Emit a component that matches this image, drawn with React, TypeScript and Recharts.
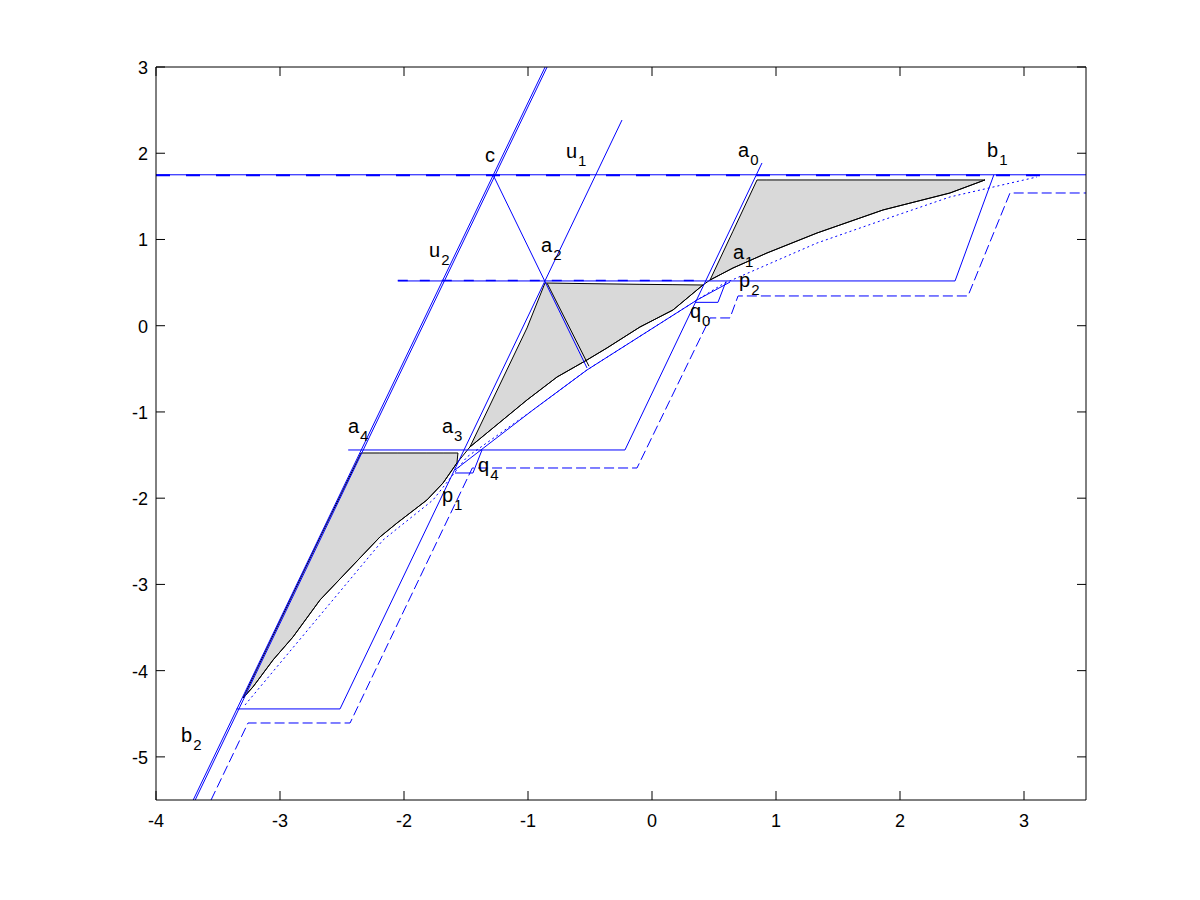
import React from 'react';
import { ComposedChart, XAxis, YAxis, Line, Area, Scatter } from 'recharts';

type P = { x: number; y: number };
type R = { x: number; lo: number; hi: number };

const xTicks = [-4, -3, -2, -1, 0, 1, 2, 3];
const yTicks = [-5, -4, -3, -2, -1, 0, 1, 2, 3];

// horizontal level line
const levelLine: P[] = [{ x: -4, y: 1.75 }, { x: 3.5, y: 1.75 }];
const levelDash: P[] = [{ x: -4, y: 1.745 }, { x: 3.2, y: 1.745 }];
// u2 (double line)
const u2LineA: P[] = [{ x: -3.7, y: -5.5 }, { x: -0.862, y: 3 }];
const u2LineB: P[] = [{ x: -3.684, y: -5.5 }, { x: -0.846, y: 3 }];
// solid staircases
const solidStepLow: P[] = [{ x: -3.35, y: -4.444 }, { x: -2.516, y: -4.444 }, { x: -0.242, y: 2.385 }];
const solidStepMid: P[] = [{ x: -2.45, y: -1.441 }, { x: -0.218, y: -1.441 }, { x: 0.887, y: 1.887 }];
const solidStepHigh: P[] = [{ x: -2.05, y: 0.519 }, { x: 2.444, y: 0.519 }, { x: 2.757, y: 1.75 }];
const highDash: P[] = [{ x: -2.05, y: 0.524 }, { x: 0.4, y: 0.524 }];
// dashed staircase
const dashedStep: P[] = [
  { x: -3.556, y: -5.5 }, { x: -3.258, y: -4.607 }, { x: -2.435, y: -4.607 }, { x: -1.449, y: -1.65 },
  { x: -0.121, y: -1.65 }, { x: 0.468, y: 0.09 }, { x: 0.629, y: 0.09 }, { x: 0.694, y: 0.345 },
  { x: 2.548, y: 0.345 }, { x: 2.887, y: 1.539 }, { x: 3.5, y: 1.539 },
];
// small loops
const smallQ0: P[] = [{ x: 0.347, y: 0.271 }, { x: 0.532, y: 0.271 }, { x: 0.597, y: 0.514 }];
const smallP1: P[] = [{ x: -1.589, y: -1.708 }, { x: -1.444, y: -1.708 }, { x: -1.371, y: -1.441 }];
// c -> a2 line
const cLine: P[] = [{ x: -1.282, y: 1.75 }, { x: -0.524, y: -0.49 }];
const cLineBlack: P[] = [{ x: -0.845, y: 0.49 }, { x: -0.508, y: -0.47 }];
// p1 -> p2
const pLine: P[] = [
  { x: -1.589, y: -1.673 }, { x: -0.96, y: -0.977 }, { x: -0.524, y: -0.513 },
  { x: 0.363, y: 0.298 }, { x: 0.629, y: 0.506 },
];
// dotted blue curve
const dottedCurve: P[] = [
  { x: -3.282, y: -4.398 }, { x: -2.621, y: -3.262 }, { x: -2.169, y: -2.485 }, { x: -1.766, y: -2.021 },
  { x: -1.492, y: -1.522 }, { x: -0.96, y: -0.977 }, { x: -0.524, y: -0.513 }, { x: 0.363, y: 0.298 },
  { x: 0.573, y: 0.485 }, { x: 1.331, y: 0.959 }, { x: 1.863, y: 1.226 }, { x: 2.403, y: 1.493 },
  { x: 3.105, y: 1.725 },
];
// black curve
const blackCurve: P[] = [
  { x: -3.298, y: -4.317 }, { x: -3.218, y: -4.189 }, { x: -3.056, y: -3.876 }, { x: -2.895, y: -3.609 },
  { x: -2.677, y: -3.18 }, { x: -2.194, y: -2.45 }, { x: -2.056, y: -2.288 }, { x: -1.815, y: -2.021 },
  { x: -1.685, y: -1.824 }, { x: -1.573, y: -1.592 }, { x: -1.468, y: -1.406 }, { x: -1.008, y: -0.861 },
  { x: -0.766, y: -0.595 }, { x: -0.524, y: -0.397 }, { x: -0.363, y: -0.258 }, { x: -0.097, y: -0.015 },
  { x: 0.169, y: 0.182 }, { x: 0.411, y: 0.472 }, { x: 0.468, y: 0.53 }, { x: 0.653, y: 0.669 },
  { x: 0.927, y: 0.843 }, { x: 1.331, y: 1.075 }, { x: 1.863, y: 1.342 }, { x: 2.403, y: 1.539 },
  { x: 2.685, y: 1.69 },
];
// gray regions (range: lower/upper bound)
const regionUpper: R[] = [
  { x: 0.468, lo: 0.53, hi: 0.53 }, { x: 0.653, lo: 0.669, hi: 1.096 }, { x: 0.847, lo: 0.792, hi: 1.69 },
  { x: 0.927, lo: 0.843, hi: 1.69 }, { x: 1.331, lo: 1.075, hi: 1.69 }, { x: 1.863, lo: 1.342, hi: 1.69 },
  { x: 2.403, lo: 1.539, hi: 1.69 }, { x: 2.685, lo: 1.69, hi: 1.69 },
];
const regionMiddle: R[] = [
  { x: -1.468, lo: -1.406, hi: -1.406 }, { x: -1.008, lo: -0.861, hi: -0.026 }, { x: -0.863, lo: -0.702, hi: 0.495 },
  { x: -0.766, lo: -0.595, hi: 0.493 }, { x: -0.524, lo: -0.397, hi: 0.488 }, { x: -0.363, lo: -0.258, hi: 0.485 },
  { x: -0.097, lo: -0.015, hi: 0.48 }, { x: 0.169, lo: 0.182, hi: 0.476 }, { x: 0.411, lo: 0.472, hi: 0.472 },
];
const regionLower: R[] = [
  { x: -3.298, lo: -4.317, hi: -4.317 }, { x: -3.218, lo: -4.189, hi: -4.077 }, { x: -3.056, lo: -3.876, hi: -3.591 },
  { x: -2.895, lo: -3.609, hi: -3.108 }, { x: -2.677, lo: -3.18, hi: -2.454 }, { x: -2.347, lo: -2.681, hi: -1.476 },
  { x: -2.194, lo: -2.45, hi: -1.476 }, { x: -2.056, lo: -2.288, hi: -1.476 }, { x: -1.815, lo: -2.021, hi: -1.476 },
  { x: -1.685, lo: -1.824, hi: -1.476 }, { x: -1.573, lo: -1.592, hi: -1.476 }, { x: -1.565, lo: -1.476, hi: -1.476 },
];
// labels
const labelMain = ['c', 'u', 'a', 'b', 'u', 'a', 'a', 'p', 'q', 'a', 'a', 'q', 'p', 'b'];
const labelSub = ['', '1', '0', '1', '2', '2', '1', '2', '0', '4', '3', '4', '1', '2'];
const labelX = [-1.347, -0.694, 0.694, 2.702, -1.798, -0.895, 0.653, 0.702, 0.306, -2.452, -1.694, -1.403, -1.694, -3.798];
const labelY = [1.898, 1.945, 1.956, 1.956, 0.797, 0.855, 0.774, 0.449, 0.09, -1.244, -1.244, -1.696, -2.044, -4.827];

const labelData = labelMain.map((m, i) => ({ x: labelX[i], y: labelY[i], main: m, sub: labelSub[i] }));

const FONT = '"Liberation Sans", Arial, Helvetica, sans-serif';
const BLUE = '#0000ff';
const TICK_LEN = 9;

const BottomTick = (props: any) => {
  const { x, y, payload } = props;
  return (
    <g>
      <line x1={x} y1={y} x2={x} y2={y - TICK_LEN} stroke="#000" strokeWidth={1} />
      <text x={x} y={y + 27} textAnchor="middle" fontSize={18} fontFamily={FONT} fill="#000">{String(payload.value)}</text>
    </g>
  );
};
const LeftTick = (props: any) => {
  const { x, y, payload } = props;
  return (
    <g>
      <line x1={x} y1={y} x2={x + TICK_LEN} y2={y} stroke="#000" strokeWidth={1} />
      <text x={x - 8} y={y + 7} textAnchor="end" fontSize={18} fontFamily={FONT} fill="#000">{String(payload.value)}</text>
    </g>
  );
};
const TopTick = (props: any) => {
  const { x, y } = props;
  return <line x1={x} y1={y} x2={x} y2={y + TICK_LEN} stroke="#000" strokeWidth={1} />;
};
const RightTick = (props: any) => {
  const { x, y } = props;
  return <line x1={x} y1={y} x2={x - TICK_LEN} y2={y} stroke="#000" strokeWidth={1} />;
};

const LabelShape = (props: any) => {
  const { cx, cy, payload } = props;
  if (cx == null || cy == null) return null;
  return (
    <text x={cx} y={cy} fontSize={20} fontFamily={FONT} fill="#000">
      {payload.main}
      {payload.sub ? <tspan dx={1} dy={8} fontSize={15}>{payload.sub}</tspan> : null}
    </text>
  );
};

const lineProps = {
  dataKey: 'y',
  dot: false,
  activeDot: false,
  isAnimationActive: false,
  type: 'linear' as const,
  strokeWidth: 1,
  legendType: 'none' as const,
};

const axisStroke = { stroke: '#000', strokeWidth: 1 };

export default function App() {
  return (
    <div style={{ width: 1184, height: 870, background: '#fff' }}>
      <ComposedChart width={1184} height={870} margin={{ top: 58, right: 105, bottom: 38, left: 0 }}>
        <XAxis
          xAxisId="b" dataKey="x" type="number" domain={[-4, 3.5]} ticks={xTicks} interval={0}
          allowDataOverflow orientation="bottom" height={40} tickSize={-9} tickMargin={9} tickLine={false}
          axisLine={axisStroke} tick={<BottomTick />}
        />
        <XAxis
          xAxisId="t" dataKey="x" type="number" domain={[-4, 3.5]} ticks={xTicks} interval={0}
          allowDataOverflow orientation="top" height={1} tickSize={-9} tickMargin={9} tickLine={false}
          axisLine={axisStroke} tick={<TopTick />}
        />
        <YAxis
          yAxisId="l" type="number" domain={[-5.5, 3]} ticks={yTicks} interval={0} allowDataOverflow
          orientation="left" width={148} tickSize={-9} tickMargin={9} tickLine={false}
          axisLine={axisStroke} tick={<LeftTick />}
        />
        <YAxis
          yAxisId="r" type="number" domain={[-5.5, 3]} ticks={yTicks} interval={0} allowDataOverflow
          orientation="right" width={1} tickSize={-9} tickMargin={9} tickLine={false}
          axisLine={axisStroke} tick={<RightTick />}
        />

        <Area xAxisId="b" yAxisId="l" data={regionUpper} dataKey={(d: R) => [d.lo, d.hi]} type="linear"
          fill="#d9d9d9" fillOpacity={1} stroke="#000" strokeWidth={1} dot={false} activeDot={false} isAnimationActive={false} />
        <Area xAxisId="b" yAxisId="l" data={regionMiddle} dataKey={(d: R) => [d.lo, d.hi]} type="linear"
          fill="#d9d9d9" fillOpacity={1} stroke="#000" strokeWidth={1} dot={false} activeDot={false} isAnimationActive={false} />
        <Area xAxisId="b" yAxisId="l" data={regionLower} dataKey={(d: R) => [d.lo, d.hi]} type="linear"
          fill="#d9d9d9" fillOpacity={1} stroke="#000" strokeWidth={1} dot={false} activeDot={false} isAnimationActive={false} />

        <Line xAxisId="b" yAxisId="l" data={blackCurve} {...lineProps} stroke="#000" />
        <Line xAxisId="b" yAxisId="l" data={cLineBlack} {...lineProps} stroke="#000" />
        <Line xAxisId="b" yAxisId="l" data={dottedCurve} {...lineProps} stroke={BLUE} strokeDasharray="2 3" />
        <Line xAxisId="b" yAxisId="l" data={dashedStep} {...lineProps} stroke={BLUE} strokeDasharray="10 4" />
        <Line xAxisId="b" yAxisId="l" data={levelLine} {...lineProps} stroke={BLUE} />
        <Line xAxisId="b" yAxisId="l" data={levelDash} {...lineProps} stroke={BLUE} strokeWidth={2} strokeDasharray="14 16" />
        <Line xAxisId="b" yAxisId="l" data={highDash} {...lineProps} stroke={BLUE} strokeWidth={1.5} strokeDasharray="10 12" />
        <Line xAxisId="b" yAxisId="l" data={u2LineA} {...lineProps} stroke={BLUE} />
        <Line xAxisId="b" yAxisId="l" data={u2LineB} {...lineProps} stroke={BLUE} />
        <Line xAxisId="b" yAxisId="l" data={solidStepLow} {...lineProps} stroke={BLUE} />
        <Line xAxisId="b" yAxisId="l" data={solidStepMid} {...lineProps} stroke={BLUE} />
        <Line xAxisId="b" yAxisId="l" data={solidStepHigh} {...lineProps} stroke={BLUE} />
        <Line xAxisId="b" yAxisId="l" data={smallQ0} {...lineProps} stroke={BLUE} />
        <Line xAxisId="b" yAxisId="l" data={smallP1} {...lineProps} stroke={BLUE} />
        <Line xAxisId="b" yAxisId="l" data={cLine} {...lineProps} stroke={BLUE} />
        <Line xAxisId="b" yAxisId="l" data={pLine} {...lineProps} stroke={BLUE} />

        <Scatter xAxisId="b" yAxisId="l" data={labelData} dataKey="y" shape={<LabelShape />} isAnimationActive={false} legendType="none" />
      </ComposedChart>
    </div>
  );
}
